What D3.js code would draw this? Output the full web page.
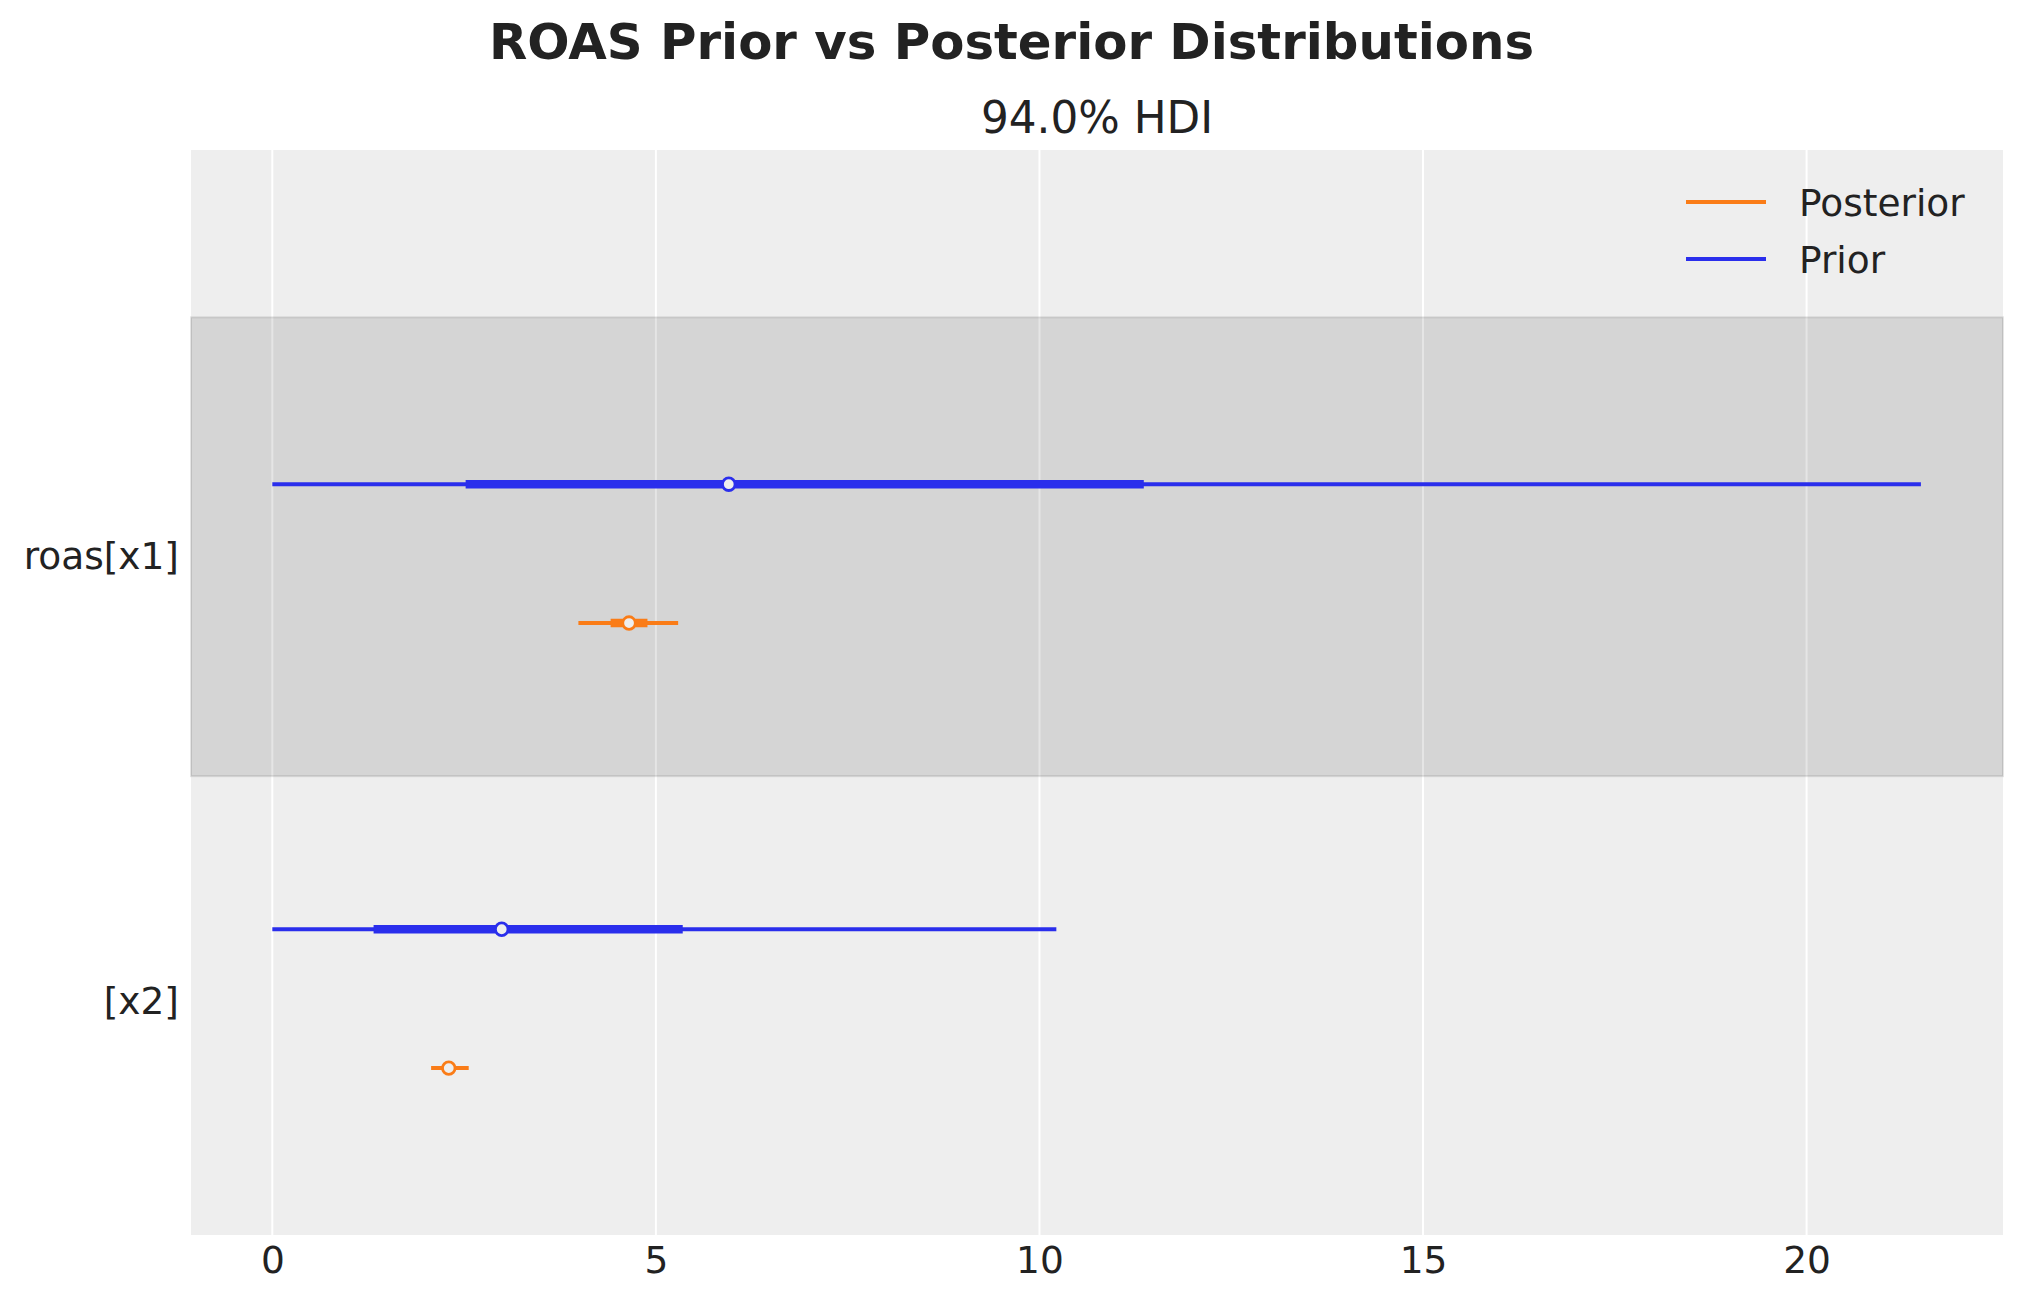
<!DOCTYPE html>
<html>
<head>
<meta charset="utf-8">
<script src="https://cdn.jsdelivr.net/npm/d3@7"></script>
<style>
  body { margin: 0; background: #fff; }
  text { font-family: "DejaVu Sans", sans-serif; fill: #222; }
</style>
</head>
<body>
<div id="chart"></div>
<script>
// variables (top to bottom) and their row index on the y axis
const variables = ["roas[x1]", "[x2]"];
const rowIndex = [1, 0];
const models = ["Posterior", "Prior"];
const modelColors = ["#fa7c17", "#2a2eec"];

// 94% HDI ends, quartiles and median per variable
const priorLow = [0.0, 0.0];
const priorQ25 = [2.52, 1.32];
const priorMedian = [5.95, 2.99];
const priorQ75 = [11.36, 5.35];
const priorHigh = [21.49, 10.22];

const postLow = [3.99, 2.07];
const postQ25 = [4.41, 2.23];
const postMedian = [4.65, 2.30];
const postQ75 = [4.89, 2.37];
const postHigh = [5.29, 2.56];

const xTicks = [0, 5, 10, 15, 20];

const W = 2023, H = 1303;
const margin = { top: 150, right: 20, bottom: 68, left: 191 };
const width = W - margin.left - margin.right,
  height = H - margin.top - margin.bottom;

const svg = d3.select("#chart").append("svg")
  .attr("width", W).attr("height", H);

const x = d3.scaleLinear().domain([-1.06, 22.56]).range([0, width]);
const y = d3.scaleLinear().domain([-0.531, 1.907]).range([height, 0]);
const modelOffset = { Prior: 0.156, Posterior: -0.156 };

const rows = variables.map((v, i) => ({ name: v, row: rowIndex[i] }));
const intervals = [];
variables.forEach((v, i) => {
  intervals.push({ model: "Prior", row: rowIndex[i], low: priorLow[i], q25: priorQ25[i], med: priorMedian[i], q75: priorQ75[i], high: priorHigh[i] });
  intervals.push({ model: "Posterior", row: rowIndex[i], low: postLow[i], q25: postQ25[i], med: postMedian[i], q75: postQ75[i], high: postHigh[i] });
});
const color = d3.scaleOrdinal().domain(models).range(modelColors);

// title
svg.append("text")
  .attr("x", W / 2).attr("y", 59)
  .attr("text-anchor", "middle")
  .style("font-size", "49.8px").style("font-weight", "bold")
  .text("ROAS Prior vs Posterior Distributions");

const g = svg.append("g").attr("transform", `translate(${margin.left},${margin.top})`);

g.append("text")
  .attr("x", width / 2).attr("y", -17)
  .attr("text-anchor", "middle")
  .style("font-size", "43.7px")
  .text("94.0% HDI");

g.append("rect").attr("width", width).attr("height", height).attr("fill", "#eeeeee");

// vertical grid
g.append("g").selectAll("line").data(xTicks).join("line")
  .attr("x1", d => x(d)).attr("x2", d => x(d))
  .attr("y1", 0).attr("y2", height)
  .attr("stroke", "#fff").attr("stroke-width", 2);

// shaded band for the first variable
g.append("g").selectAll("rect").data(rows.filter(r => r.row === 1)).join("rect")
  .attr("x", 0).attr("width", width)
  .attr("y", d => y(d.row + 0.531))
  .attr("height", d => y(d.row - 0.5) - y(d.row + 0.531))
  .attr("fill", "#000").attr("fill-opacity", 0.1)
  .attr("stroke", "#000").attr("stroke-opacity", 0.1).attr("stroke-width", 2);

const yPos = d => y(d.row + modelOffset[d.model]);

// HDI (thin)
g.append("g").selectAll("line").data(intervals).join("line")
  .attr("x1", d => x(d.low)).attr("x2", d => x(d.high))
  .attr("y1", yPos).attr("y2", yPos)
  .attr("stroke", d => color(d.model)).attr("stroke-width", 4);

// quartiles (thick)
g.append("g").selectAll("line").data(intervals).join("line")
  .attr("x1", d => x(d.q25)).attr("x2", d => x(d.q75))
  .attr("y1", yPos).attr("y2", yPos)
  .attr("stroke", d => color(d.model)).attr("stroke-width", 8.5);

// medians
g.append("g").selectAll("circle").data(intervals).join("circle")
  .attr("cx", d => x(d.med)).attr("cy", yPos).attr("r", 6.3)
  .attr("fill", "#eeeeee")
  .attr("stroke", d => color(d.model)).attr("stroke-width", 2.8);

// x axis
const xAxis = g.append("g").attr("transform", `translate(0,${height})`)
  .call(d3.axisBottom(x).tickValues(xTicks).tickSize(0).tickPadding(11).tickFormat(d3.format("d")));
xAxis.select(".domain").remove();
xAxis.selectAll("text").style("font-size", "37.5px").attr("fill", "#222");

// y labels
g.append("g").selectAll("text").data(rows).join("text")
  .attr("x", -12).attr("y", d => y(d.row))
  .attr("dy", "0.42em")
  .attr("text-anchor", "end")
  .style("font-size", "37.5px")
  .text(d => d.name);

// legend
const legend = svg.append("g").selectAll("g").data(models).join("g")
  .attr("transform", (d, i) => `translate(1686,${202 + i * 57})`);
legend.append("line").attr("x1", 0).attr("x2", 80)
  .attr("stroke", d => color(d)).attr("stroke-width", 4);
legend.append("text").attr("x", 113).attr("dy", "0.36em")
  .style("font-size", "37.5px").text(d => d);
</script>
</body>
</html>
